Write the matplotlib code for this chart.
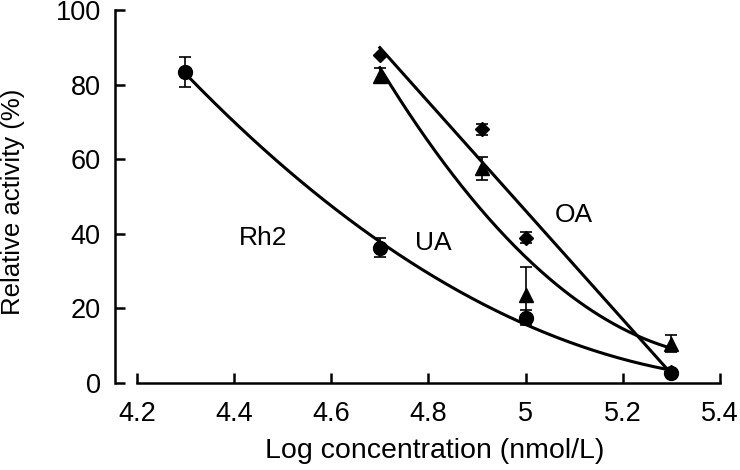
import numpy as np
import matplotlib
matplotlib.use('Agg')
import matplotlib.pyplot as plt

plt.rcParams['font.family'] = ['Liberation Sans', 'DejaVu Sans']

# data
rh2_x = [4.3, 4.7, 5.0, 5.3]
rh2_y = [83.3, 36.3, 17.5, 2.8]
rh2_err = [4.0, 2.5, 2.0, 0.0]

ua_x = [4.7, 4.91, 5.0, 5.3]
ua_y = [82.3, 57.5, 23.5, 10.5]
ua_err = [2.0, 3.0, 7.5, 2.3]

oa_x = [4.7, 4.91, 5.0, 5.3]
oa_y = [87.8, 68.0, 39.0, 3.0]
oa_err = [0.0, 1.5, 1.5, 0.0]

xticks = [4.2, 4.4, 4.6, 4.8, 5.0, 5.2, 5.4]
xticklabels = ['4.2', '4.4', '4.6', '4.8', '5', '5.2', '5.4']
yticks = [0, 20, 40, 60, 80, 100]

fig = plt.figure(figsize=(7.4, 4.7), dpi=100)
ax = fig.add_axes([0.185, 0.185, 0.788, 0.794])

lw = 2.2
# fitted trend curves
for xs, ys, deg in [(rh2_x, rh2_y, 2), (ua_x, ua_y, 2), (oa_x, oa_y, 1)]:
    p = np.polyfit(xs, ys, deg)
    xx = np.linspace(min(xs), max(xs), 200)
    ax.plot(xx, np.polyval(p, xx), color='black', lw=lw, zorder=2)

ekw = dict(fmt='none', ecolor='black', elinewidth=1.2, capsize=4.5, capthick=1.2, zorder=3)
ax.errorbar(rh2_x, rh2_y, yerr=rh2_err, **ekw)
ax.errorbar(ua_x, ua_y, yerr=ua_err, **ekw)
ax.errorbar(oa_x, oa_y, yerr=oa_err, **ekw)

ax.plot(rh2_x, rh2_y, 'o', color='black', ms=10, zorder=4)
ax.plot(ua_x, ua_y, '^', color='black', ms=10, zorder=4)
ax.plot(oa_x, oa_y, 'D', color='black', ms=7.5, zorder=4)

ax.text(4.46, 39, 'Rh2', fontsize=19, ha='center', va='center')
ax.text(4.81, 37.5, 'UA', fontsize=19, ha='center', va='center')
ax.text(5.10, 45, 'OA', fontsize=19, ha='center', va='center')

ax.set_xlim(4.2, 5.4)
ax.set_ylim(0, 100)
ax.set_xticks(xticks)
ax.set_xticklabels(xticklabels)
ax.set_yticks(yticks)

for s in ['top', 'right']:
    ax.spines[s].set_visible(False)
for s in ['left', 'bottom']:
    ax.spines[s].set_linewidth(1.8)
ax.spines['left'].set_position(('outward', 16))

ax.tick_params(axis='both', direction='in', length=7, width=1.8, labelsize=19.5)
ax.tick_params(axis='y', pad=10)
ax.tick_params(axis='x', pad=13)

ax.set_xlabel('Log concentration (nmol/L)', fontsize=20.5, va='center')
ax.set_ylabel('Relative activity (%)', fontsize=18.5, va='center')
ax.xaxis.set_label_coords(0.51, -0.182)
ax.yaxis.set_label_coords(-0.212, 0.485)

fig.savefig('out.png', dpi=100)
